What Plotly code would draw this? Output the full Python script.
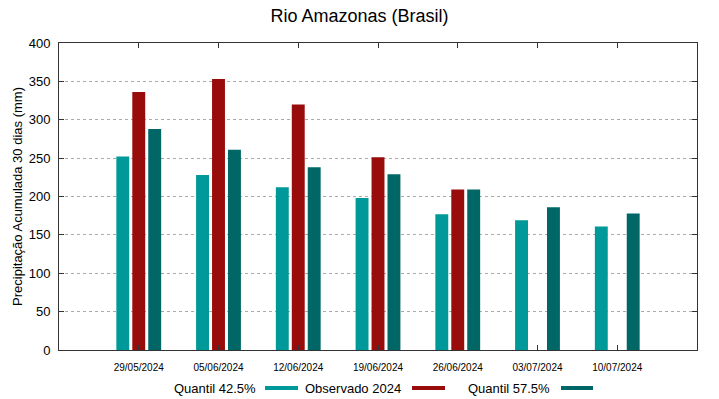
import plotly.graph_objects as go

dates = ["29/05/2024", "05/06/2024", "12/06/2024", "19/06/2024",
         "26/06/2024", "03/07/2024", "10/07/2024"]
q425 = [252, 228, 212, 198, 177, 169, 161]
obs2024 = [336, 353, 320, 251, 209, None, None]
q575 = [288, 261, 238, 229, 209, 186, 178]

names = ["Quantil 42.5%", "Observado 2024", "Quantil 57.5%"]
colors = ["#009999", "#990c0c", "#006666"]
series = [q425, obs2024, q575]

fig = go.Figure()
for n, c, s in zip(names, colors, series):
    fig.add_trace(go.Bar(x=dates, y=s, name=n, marker=dict(color=c, line=dict(width=0)),
                         showlegend=False))

font_fam = "Liberation Sans, Arial, sans-serif"
fig.update_layout(
    width=719, height=399,
    margin=dict(l=59, r=22, t=43, b=49, autoexpand=False),
    paper_bgcolor="white", plot_bgcolor="white",
    barmode="group", bargap=0.4, bargroupgap=0.19,
    font=dict(family=font_fam, color="#000"),
    title=dict(text="Rio Amazonas (Brasil)", x=0.5, xanchor="center",
               yref="container", y=1 - 16 / 399, yanchor="middle",
               font=dict(size=18, color="#000")),
    xaxis=dict(type="category", range=[-1, 7], showline=True, linecolor="#333",
               linewidth=1, mirror="allticks", ticks="inside", ticklen=5,
               tickcolor="#333", showgrid=False, tickfont=dict(size=10),
               ticklabelstandoff=8, automargin=False),
    yaxis=dict(range=[0, 400], dtick=50, showline=True, linecolor="#333", linewidth=1,
               mirror="allticks", ticks="inside", ticklen=5, tickcolor="#333",
               showgrid=True, gridcolor="#aaa", griddash="dot", gridwidth=1,
               zeroline=False, tickfont=dict(size=13), automargin=False,
               ticklabelstandoff=5,
               title=dict(text="Precipitação Acumulada 30 dias (mm)", font=dict(size=13),
                          standoff=3)),
)

# legend drawn gnuplot-style: text then swatch
leg = [(258, 265, 298), (403, 412, 445), (552, 561, 593)]
for (tx, s0, s1), n, c in zip(leg, names, colors):
    fig.add_annotation(xref="paper", yref="paper", x=(tx - 59) / (697 - 59),
                       y=-(388 - 350) / (350 - 43), text=n, showarrow=False,
                       xanchor="right", yanchor="middle", font=dict(size=13))
    fig.add_shape(type="rect", xref="paper", yref="paper",
                  x0=(s0 - 59) / 638, x1=(s1 - 59) / 638,
                  y0=-(390 - 350) / 307, y1=-(386 - 350) / 307,
                  fillcolor=c, line=dict(width=0))

fig.write_html("out.html", config={"displayModeBar": False},
               post_script="document.body.style.margin='0';document.body.style.overflow='hidden';")
